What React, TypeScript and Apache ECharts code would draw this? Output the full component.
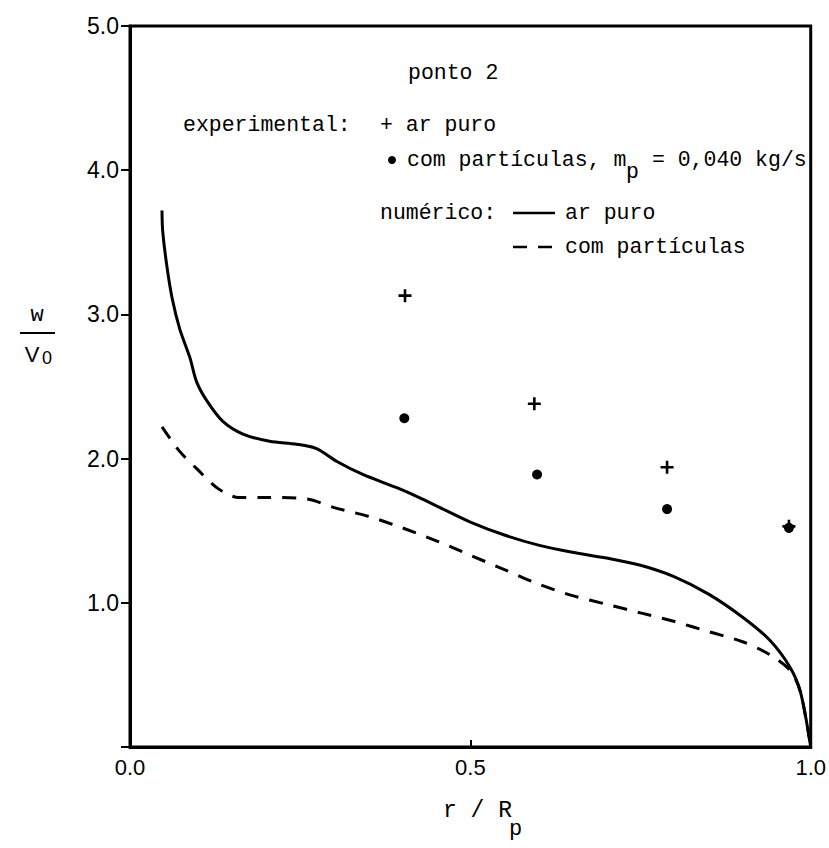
import React, { useEffect, useRef } from "react";
import * as echarts from "echarts";

// numeric solution, pure air (solid)
const solidR = [0.047, 0.048, 0.054, 0.062, 0.073, 0.088, 0.098, 0.113, 0.136, 0.166, 0.205, 0.245, 0.274, 0.304, 0.342, 0.391, 0.425, 0.46, 0.5, 0.55, 0.6, 0.65, 0.7, 0.75, 0.8, 0.85, 0.9, 0.94, 0.97, 0.985, 1.0];
const solidV = [3.72, 3.58, 3.34, 3.11, 2.9, 2.7, 2.53, 2.4, 2.26, 2.17, 2.12, 2.1, 2.07, 1.98, 1.89, 1.8, 1.73, 1.65, 1.56, 1.47, 1.4, 1.35, 1.31, 1.26, 1.18, 1.06, 0.9, 0.74, 0.55, 0.38, 0.0];

// numeric solution, with particles (dashed)
const dashR = [0.047, 0.073, 0.098, 0.13, 0.16, 0.2, 0.26, 0.3, 0.35, 0.4, 0.45, 0.5, 0.55, 0.6, 0.65, 0.7, 0.75, 0.8, 0.85, 0.9, 0.94, 0.97, 0.985, 1.0];
const dashV = [2.22, 2.05, 1.93, 1.79, 1.73, 1.73, 1.72, 1.66, 1.6, 1.52, 1.43, 1.33, 1.23, 1.13, 1.05, 0.99, 0.93, 0.87, 0.8, 0.73, 0.64, 0.53, 0.38, 0.0];

// experimental, pure air (+)
const expAirR = [0.404, 0.594, 0.789, 0.968];
const expAirV = [3.13, 2.38, 1.94, 1.53];

// experimental, with particles (dots)
const expPartR = [0.403, 0.598, 0.789, 0.968];
const expPartV = [2.28, 1.89, 1.65, 1.52];

const xTicks = [0, 0.5, 1.0];
const xTickLabels = ["0.0", "0.5", "1.0"];
const yTickLabels = ["", "1.0", "2.0", "3.0", "4.0", "5.0"];

const MONO = "'Liberation Mono', 'DejaVu Sans Mono', monospace";
const SANS = "'Liberation Sans', 'DejaVu Sans', sans-serif";

export default function App() {
  const ref = useRef<HTMLDivElement>(null);
  useEffect(() => {
    if (!ref.current) return;
    document.body.style.margin = "0";
    const chart = echarts.init(ref.current, undefined, { renderer: "svg" });
    const zip = (a: number[], b: number[]) => a.map((v, i) => [v, b[i]]);
    const txt = (text: string, x: number, y: number, font = MONO, size = 21.5, align = "left") => ({
      type: "text",
      x,
      y,
      style: { text, fill: "#000", font: `${size}px ${font}`, textAlign: align, textVerticalAlign: "middle" },
    });
    const option: any = {
      animation: false,
      backgroundColor: "#fff",
      grid: { left: 130, right: 17, top: 26, bottom: 101, show: true, borderColor: "#000", borderWidth: 3 },
      xAxis: {
        type: "value",
        min: 0,
        max: 1,
        interval: 0.5,
        axisLine: { lineStyle: { color: "#000", width: 3 } },
        axisTick: { inside: true, length: 7, lineStyle: { color: "#000", width: 2 } },
        splitLine: { show: false },
        axisLabel: {
          color: "#000",
          fontFamily: SANS,
          fontSize: 22,
          margin: 9,
          formatter: (v: number) => xTickLabels[xTicks.indexOf(Math.round(v * 10) / 10)] ?? "",
        },
      },
      yAxis: {
        type: "value",
        min: 0,
        max: 5,
        interval: 1,
        axisLine: { lineStyle: { color: "#000", width: 3 } },
        axisTick: { inside: false, length: 9, lineStyle: { color: "#000", width: 2 } },
        splitLine: { show: false },
        axisLabel: {
          color: "#000",
          fontFamily: SANS,
          fontSize: 23,
          margin: 11,
          formatter: (v: number) => yTickLabels[Math.round(v)] ?? "",
        },
      },
      series: [
        {
          type: "line",
          data: zip(solidR, solidV),
          smooth: 0.3,
          showSymbol: false,
          lineStyle: { color: "#000", width: 3 },
        },
        {
          type: "line",
          data: zip(dashR, dashV),
          smooth: 0.3,
          showSymbol: false,
          lineStyle: { color: "#000", width: 3, type: [14, 11] },
        },
        {
          type: "scatter",
          data: zip(expAirR, expAirV),
          symbol: "path://M4,0 L6,0 L6,4 L10,4 L10,6 L6,6 L6,10 L4,10 L4,6 L0,6 L0,4 L4,4 Z",
          symbolSize: 13,
          itemStyle: { color: "#000", opacity: 1 },
        },
        {
          type: "scatter",
          data: zip(expPartR, expPartV),
          symbol: "circle",
          symbolSize: 10,
          itemStyle: { color: "#000", opacity: 1 },
        },
      ],
      graphic: [
        txt("ponto 2", 408, 73),
        txt("experimental:", 183, 125),
        txt("+ ar puro", 380, 125),
        { type: "circle", shape: { cx: 392, cy: 160, r: 4 }, style: { fill: "#000" } },
        txt("com partículas, m", 407, 160),
        txt("p", 626, 172),
        txt(" = 0,040 kg/s", 639, 160),
        txt("numérico:", 380, 213),
        { type: "line", shape: { x1: 513, y1: 213, x2: 555, y2: 213 }, style: { stroke: "#000", lineWidth: 2.5 } },
        txt("ar puro", 565, 213),
        { type: "line", shape: { x1: 513, y1: 247, x2: 527, y2: 247 }, style: { stroke: "#000", lineWidth: 2.5 } },
        { type: "line", shape: { x1: 538, y1: 247, x2: 552, y2: 247 }, style: { stroke: "#000", lineWidth: 2.5 } },
        txt("com partículas", 565, 247),
        // y-axis name: w / V0
        txt("w", 37, 315, MONO, 22, "center"),
        { type: "line", shape: { x1: 20, y1: 333, x2: 55, y2: 333 }, style: { stroke: "#000", lineWidth: 2 } },
        txt("V", 32, 354, SANS, 22, "center"),
        txt("0", 47, 358, SANS, 18, "center"),
        // x-axis name: r / Rp
        txt("r / R", 443, 811, MONO, 23),
        txt("p", 509, 829, MONO, 22),
      ],
    };
    chart.setOption(option);
    return () => chart.dispose();
  }, []);
  return <div ref={ref} style={{ width: 829, height: 848 }} />;
}
